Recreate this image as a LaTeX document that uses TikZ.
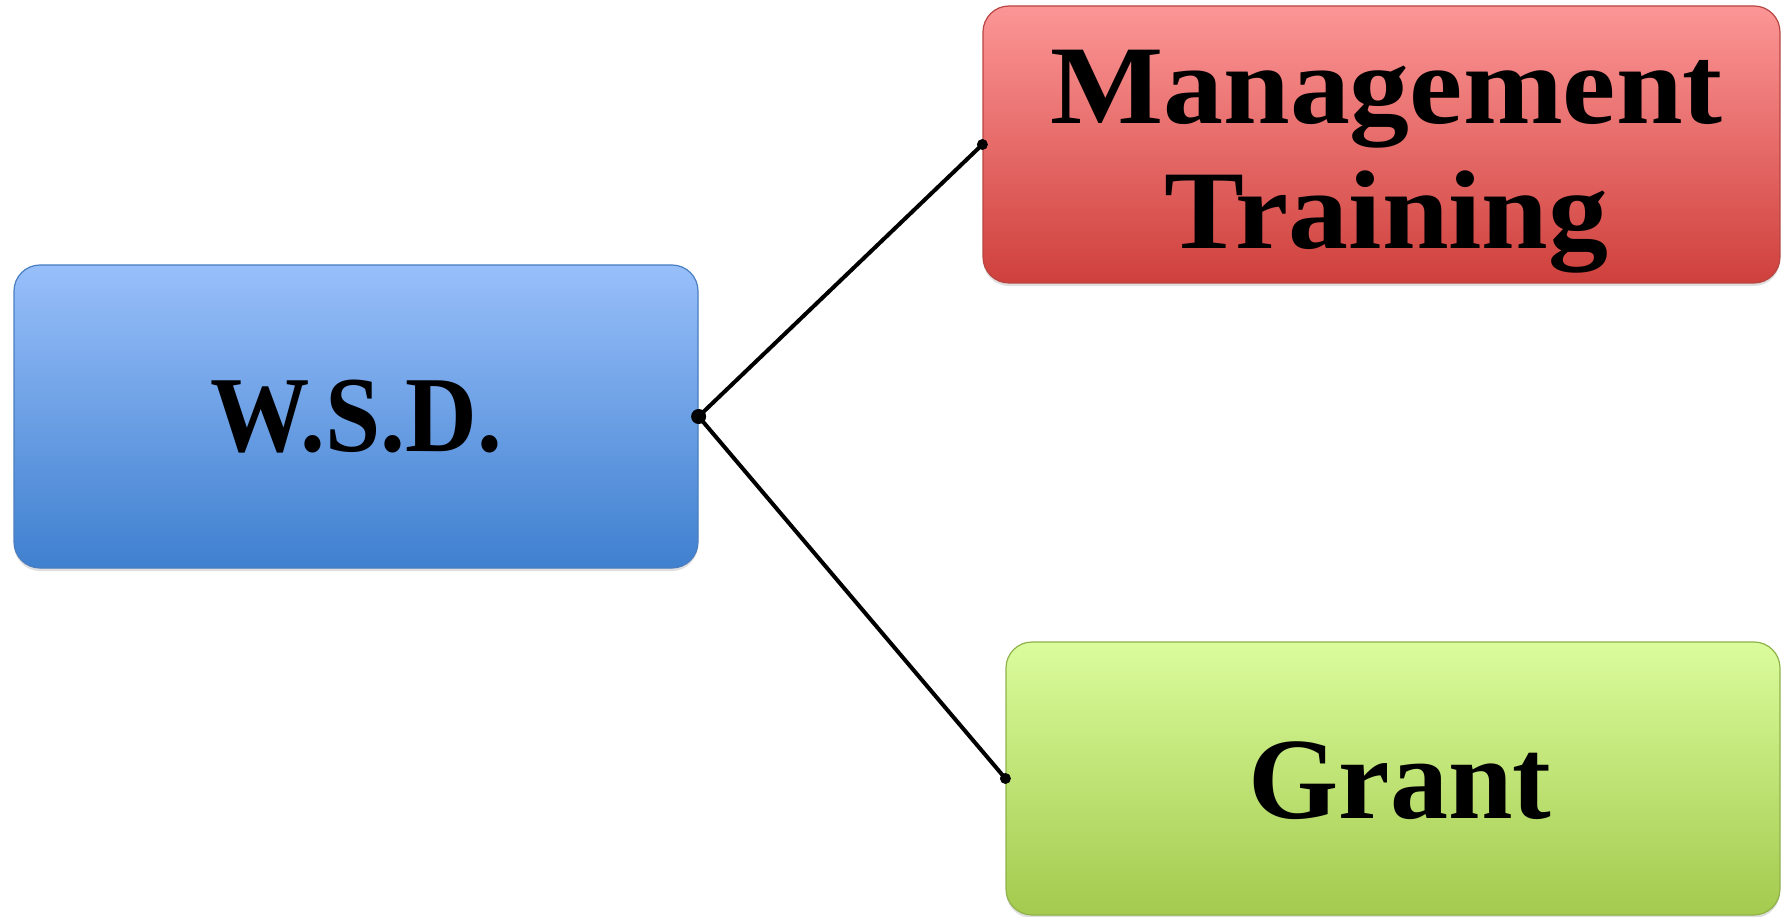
\documentclass[tikz,border=0pt]{standalone}
\usepackage{fontspec}
\setmainfont{Liberation Serif}
\newfontfamily\widefont[FakeStretch=1.07]{Liberation Serif}
\newfontfamily\narrowfont[FakeStretch=0.92]{Liberation Serif}
\usetikzlibrary{shadows}
\definecolor{bluetop}{HTML}{98BFFA}
\definecolor{bluebot}{HTML}{3F80CF}
\definecolor{blueedge}{HTML}{4A7EC0}
\definecolor{redtop}{HTML}{FC9696}
\definecolor{redbot}{HTML}{CF403C}
\definecolor{rededge}{HTML}{B84541}
\definecolor{greentop}{HTML}{DBFC9C}
\definecolor{greenbot}{HTML}{A4CA4E}
\definecolor{greenedge}{HTML}{8FB24A}
\tikzset{
  box/.style={rectangle, rounded corners=26pt, line width=1.2pt, inner sep=0pt,
    align=center,
    drop shadow={opacity=0.25, shadow xshift=0pt, shadow yshift=-3pt}},
  boxtext/.style={inner sep=0pt, align=center},
  link/.style={line width=4pt, black},
  enddot/.style={circle, fill=black, inner sep=0pt, minimum size=15pt}
}
\begin{document}
\begin{tikzpicture}[x=1pt,y=-1pt]
\useasboundingbox (0,0) rectangle (1781,917);
\node[box, draw=blueedge, top color=bluetop, bottom color=bluebot,
  minimum width=684pt, minimum height=303pt,
  font=\narrowfont\bfseries\fontsize{108}{120}\selectfont] (wsd) at (356,416.5)
  {W.S.D.};
\node[box, draw=rededge, top color=redtop, bottom color=redbot,
  minimum width=797pt, minimum height=277pt] (mt) at (1381.5,144.5) {};
\node[boxtext, font=\widefont\bfseries\fontsize{112}{125}\selectfont] (mttext)
  at (1386.5,161.5) {Management\\Training};
\node[box, draw=greenedge, top color=greentop, bottom color=greenbot,
  minimum width=774pt, minimum height=273pt] (gr) at (1393,778.5) {};
\node[boxtext, font=\bfseries\fontsize{116}{125}\selectfont] (grtext)
  at (1400,780.5) {Grant};
\draw[link] (wsd.east) -- (mt.west);
\draw[link] (wsd.east) -- (gr.west);
\node[enddot] (d1) at (wsd.east) {};
\node[enddot, minimum size=11pt] (d2) at (mt.west) {};
\node[enddot, minimum size=11pt] (d3) at (gr.west) {};
\end{tikzpicture}
\end{document}
